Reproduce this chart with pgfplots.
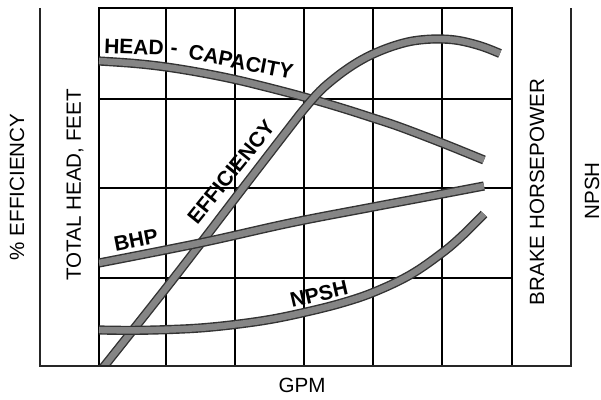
\documentclass[border=0pt]{standalone}
\usepackage{pgfplots}
\pgfplotsset{compat=1.18}
\usepackage{fontspec}
\setmainfont{Liberation Sans}
\definecolor{bandedge}{gray}{0.2}
\definecolor{bandfill}{gray}{0.52}
\tikzset{
  band/.style={draw=bandedge, line width=4.6pt, smooth, tension=0.6, line cap=butt, line join=round},
  bandin/.style={draw=bandfill, line width=3.2pt, smooth, tension=0.6, line cap=butt, line join=round},
  axlab/.style={font=\fontsize{10.3}{12}\selectfont, inner sep=0pt},
  cvlab/.style={font=\fontsize{10.5}{12}\selectfont\bfseries, inner sep=0pt},
}
\pgfplotstableread{
x y
99 339
135 336.5
166 333
200 327.5
235 320.5
270 312
304 303
340 292.5
373 282
400 273
442 257
484 240
}\headtab
\pgfplotstableread{
x y
102 31
174 122
243 212
290 273
305 292
320 309
335 322
350 333
365 342
380 349
395 354.5
410 358.5
425 360.5
440 361
455 360
470 357
485 352.5
500 346.5
}\efftab
\pgfplotstableread{
x y
99 137
200 157
290 177
373 193
442 206
484 214
}\bhptab
\pgfplotstableread{
x y
99 70
130 69.6
165 70.3
200 72
235 75.5
270 80.5
304 87.5
340 96.5
373 107.5
410 125
442 147
463 165
484 186
}\npshtab
\begin{document}
\begin{tikzpicture}
\begin{axis}[
  scale only axis,
  width=206.5pt, height=179pt,
  xmin=99, xmax=512, ymin=34, ymax=392,
  xtick={166,235,304,373,442}, ytick={122,212,301},
  xticklabels={}, yticklabels={},
  major tick length=0pt,
  grid=major,
  grid style={black, line width=0.6pt},
  axis line style={black, line width=0.9pt},
  clip=true,
]
\addplot[band] table {\headtab};
\addplot[bandin] table {\headtab};
\addplot[band] table {\efftab};
\addplot[bandin] table {\efftab};
\addplot[band] table {\bhptab};
\addplot[bandin] table {\bhptab};
\addplot[band] table {\npshtab};
\addplot[bandin] table {\npshtab};
\end{axis}
\begin{axis}[
  scale only axis,
  width=206.5pt, height=179pt,
  xmin=99, xmax=512, ymin=34, ymax=392,
  axis lines=none, clip=false,
]
\path (axis cs:0,0) rectangle (axis cs:601,400);
\addplot[black!85, line width=0.7pt] coordinates {(40,392)(40,34)(571,34)(571,392)};
\node[cvlab, rotate=-2] at (axis cs:134,353) {HEAD};
\node[cvlab, rotate=-6] at (axis cs:174,348) {-};
\node[cvlab, rotate=-11] at (axis cs:241,338) {CAPACITY};
\node[cvlab, rotate=51] at (axis cs:231,228) {EFFICIENCY};
\node[cvlab, rotate=11] at (axis cs:136,160) {BHP};
\node[cvlab, rotate=13] at (axis cs:319,106) {NPSH};
\node[axlab, rotate=90] at (axis cs:17,213) {\% EFFICIENCY};
\node[axlab, rotate=90] at (axis cs:75,215) {TOTAL HEAD, FEET};
\node[axlab, rotate=90] at (axis cs:537,208) {BRAKE HORSEPOWER};
\node[axlab, rotate=90] at (axis cs:592,209) {NPSH};
\node[axlab] at (axis cs:302,15) {GPM};
\end{axis}
\end{tikzpicture}
\end{document}
